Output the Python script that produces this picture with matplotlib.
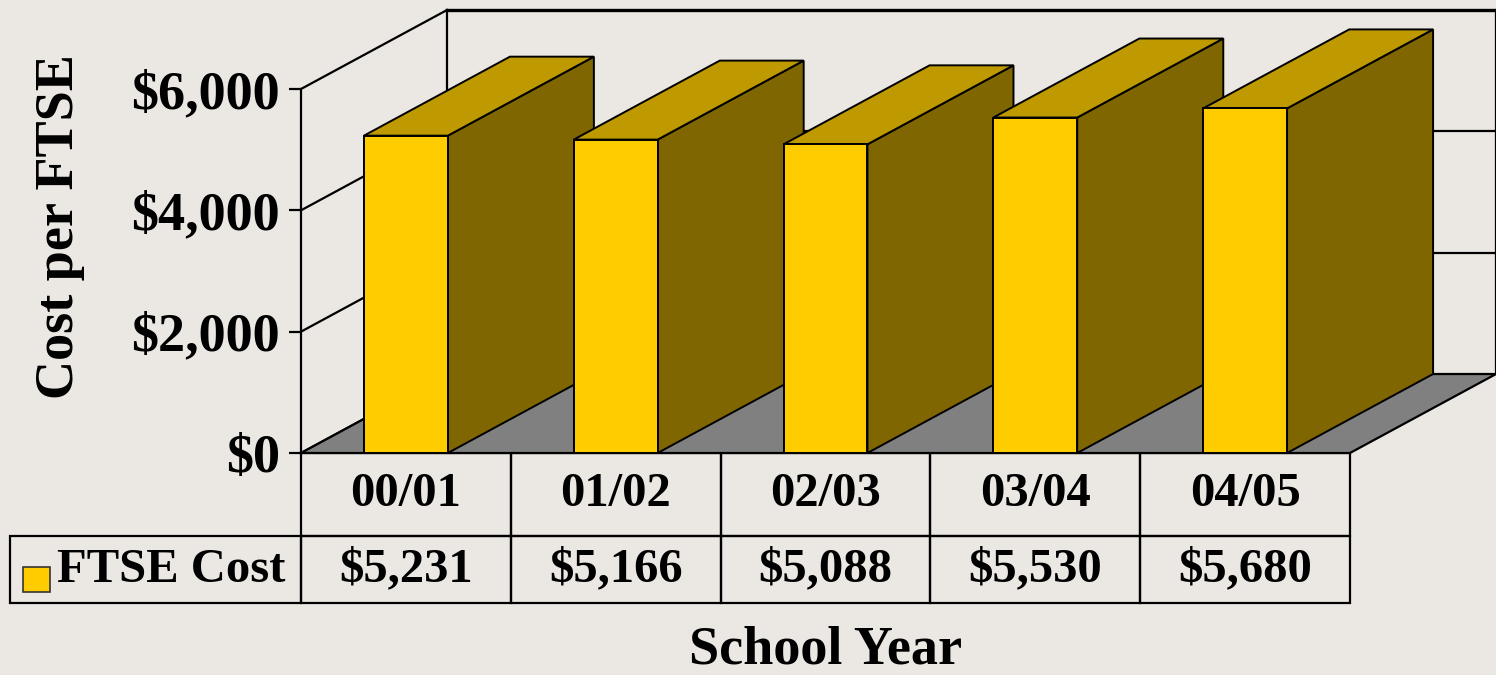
import matplotlib
matplotlib.use("Agg")
import matplotlib.pyplot as plt
from matplotlib.patches import Polygon, Rectangle
from matplotlib.table import Table
from matplotlib.ticker import FuncFormatter

years = ["00/01", "01/02", "02/03", "03/04", "04/05"]
cost = [5231, 5166, 5088, 5530, 5680]
series_name = "FTSE Cost"

bg = "#EBE7E3"
front_col = "#FFCC00"
top_col = "#BF9900"
side_col = "#806600"
floor_col = "#808080"

# depth of the fake 3d box, in data units (categories, dollars)
dx = 0.696
dy = 1302
bar_w = 0.4

plt.rcParams["font.family"] = ["Liberation Serif", "DejaVu Serif"]
plt.rcParams["font.weight"] = "bold"

fig = plt.figure(figsize=(14.96, 6.75), dpi=100, facecolor=bg)
ax = fig.add_axes([301 / 1496, 222 / 675, 1049 / 1496, 364 / 675])
ax.set_facecolor("none")
ax.set_xlim(-0.5, len(years) - 0.5)
ax.set_ylim(0, 6000)

lw = 1.6
ticks = [0, 2000, 4000, 6000]
xl, xr = -0.5, len(years) - 0.5

# back wall and left wall (behind everything)
for t in ticks:
    ax.plot([xl, xl + dx], [t, t + dy], color="black", lw=lw,
            clip_on=False, zorder=0.5)
    if t > 0:
        ax.plot([xl + dx, xr + dx], [t + dy, t + dy], color="black",
                lw=lw if t < 6000 else 2.4, clip_on=False, zorder=0.5)
for xv in (xl + dx, xr + dx):
    ax.plot([xv, xv], [dy, 6000 + dy], color="black", lw=lw,
            clip_on=False, zorder=0.5)

# floor
ax.add_patch(Polygon([(xl, 0), (xr, 0), (xr + dx, dy), (xl + dx, dy)],
                     closed=True, facecolor=floor_col, edgecolor="black",
                     lw=lw, clip_on=False, zorder=1))

# bars, left to right so the next front face hides the previous side
z = 2
for i, v in enumerate(cost):
    x0 = i - bar_w / 2
    x1 = i + bar_w / 2
    side = [(x1, 0), (x1 + dx, dy), (x1 + dx, v + dy), (x1, v)]
    top = [(x0, v), (x1, v), (x1 + dx, v + dy), (x0 + dx, v + dy)]
    front = [(x0, 0), (x1, 0), (x1, v), (x0, v)]
    for pts, c in ((side, side_col), (top, top_col), (front, front_col)):
        ax.add_patch(Polygon(pts, closed=True, facecolor=c, edgecolor="black",
                             lw=1.4, clip_on=False, joinstyle="miter", zorder=z))
        z += 0.01

# axes look
for s in ("top", "right", "bottom"):
    ax.spines[s].set_visible(False)
ax.spines["left"].set_linewidth(lw)
ax.set_xticks([])
ax.set_yticks(ticks)
ax.yaxis.set_major_formatter(FuncFormatter(lambda v, p: "${:,.0f}".format(v)))
ax.tick_params(axis="y", length=9, width=lw, pad=6, labelsize=39)
for lab in ax.get_yticklabels():
    lab.set_fontweight("bold")

# data table under the chart, sizes in axes fractions
# (the bbox only covers the grid cells, the row label column sits left of it)
lab_w = 291 / 1049
col_w = 1.0 / len(years)
head_h = 83 / 364
row_h = 67 / 364
tbl = Table(ax, bbox=[0, -(head_h + row_h), 1.0, head_h + row_h])
for j, yr in enumerate(years):
    tbl.add_cell(0, j, width=col_w, height=head_h, text=yr, loc="center")
    tbl.add_cell(1, j, width=col_w, height=row_h,
                 text="${:,}".format(cost[j]), loc="center")
tbl.add_cell(1, -1, width=lab_w, height=row_h, text=series_name, loc="right")
tbl.auto_set_font_size(False)
for (r, c), cell in tbl.get_celld().items():
    cell.set_facecolor("none")
    cell.set_edgecolor("black")
    cell.set_linewidth(lw)
    cell.get_text().set_fontsize(35)
    cell.get_text().set_fontweight("bold")
    if c == -1:
        cell.PAD = 0.055
ax.add_table(tbl)

# legend key in the row label cell
ax.add_patch(Rectangle((-278 / 1049, -139 / 364), 27 / 1049, 25 / 364,
                       transform=ax.transAxes, facecolor=front_col,
                       edgecolor="#333333", lw=1.2, clip_on=False, zorder=5))

fig.text(60 / 1496, 1 - 227 / 675, "Cost per FTSE", rotation=90,
         ha="center", va="center", fontsize=39, fontweight="bold")
fig.text(826 / 1496, 1 - 663 / 675, "School Year",
         ha="center", va="baseline", fontsize=39, fontweight="bold")

fig.savefig("out.png", dpi=100, facecolor=bg)
